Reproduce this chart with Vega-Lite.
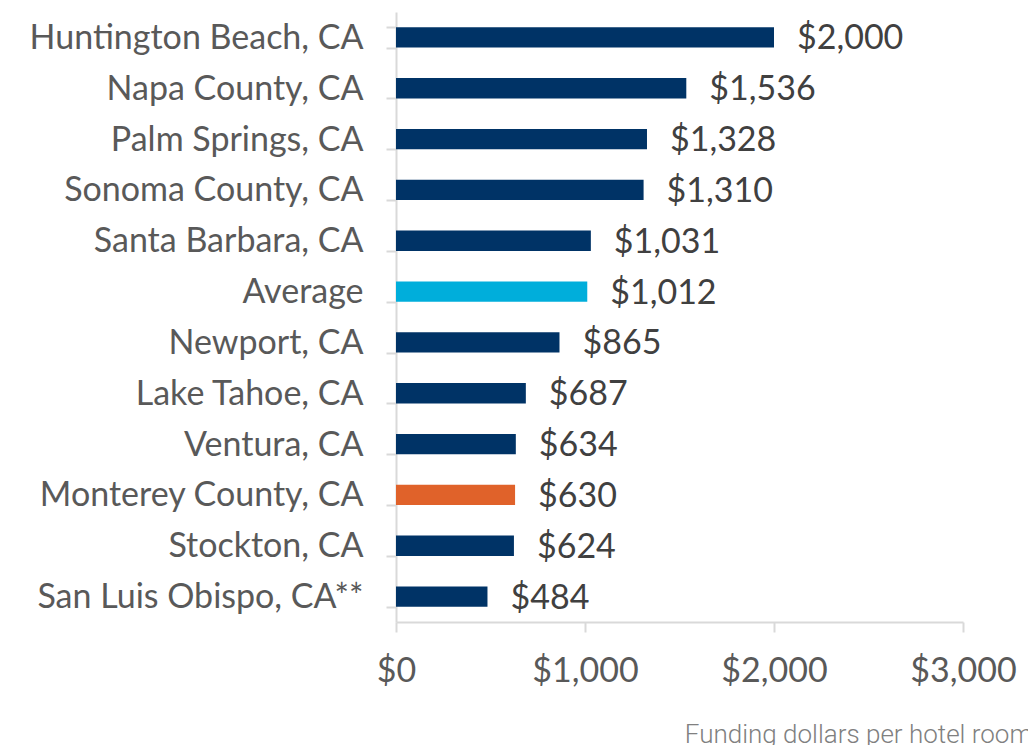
{
  "$schema": "https://vega.github.io/schema/vega-lite/v6.json",
  "width": 567,
  "height": 610,
  "autosize": {"type": "none"},
  "padding": {"left": 396, "top": 12, "right": 65, "bottom": 123},
  "background": "white",
  "config": {"view": {"stroke": null}, "font": "Lato"},
  "data": {
    "values": [
      {"city": "Huntington Beach, CA", "value": 2000, "group": "city"},
      {"city": "Napa County, CA", "value": 1536, "group": "city"},
      {"city": "Palm Springs, CA", "value": 1328, "group": "city"},
      {"city": "Sonoma County, CA", "value": 1310, "group": "city"},
      {"city": "Santa Barbara, CA", "value": 1031, "group": "city"},
      {"city": "Average", "value": 1012, "group": "average"},
      {"city": "Newport, CA", "value": 865, "group": "city"},
      {"city": "Lake Tahoe, CA", "value": 687, "group": "city"},
      {"city": "Ventura, CA", "value": 634, "group": "city"},
      {"city": "Monterey County, CA", "value": 630, "group": "monterey"},
      {"city": "Stockton, CA", "value": 624, "group": "city"},
      {"city": "San Luis Obispo, CA**", "value": 484, "group": "city"}
    ]
  },
  "encoding": {
    "y": {
      "field": "city",
      "type": "nominal",
      "sort": null,
      "scale": {"paddingInner": 0.6, "paddingOuter": 0.3},
      "axis": {
        "title": null,
        "domainColor": "#D9D9D9",
        "domainWidth": 2,
        "tickColor": "#D9D9D9",
        "tickWidth": 2,
        "tickSize": 10,
        "tickBand": "extent",
        "labelFont": "Lato",
        "labelFontSize": 34,
        "labelColor": "#595959",
        "labelPadding": 23,
        "labelLimit": 400,
        "labelOffset": 1
      }
    },
    "x": {
      "field": "value",
      "type": "quantitative",
      "scale": {"domain": [0, 3000]},
      "axis": {
        "values": [0, 1000, 2000, 3000],
        "format": "$,.0f",
        "grid": false,
        "domainColor": "#D9D9D9",
        "domainWidth": 2,
        "tickColor": "#D9D9D9",
        "tickWidth": 2,
        "tickSize": 10,
        "labelFont": "Lato",
        "labelFontSize": 34,
        "labelColor": "#595959",
        "labelPadding": 22,
        "labelFlush": false,
        "title": "Funding dollars per hotel room",
        "titleFont": "Roboto",
        "titleFontWeight": 300,
        "titleFontSize": 26,
        "titleColor": "#808080",
        "titleAlign": "right",
        "titleAnchor": null,
        "titleX": 636,
        "titleY": 120,
        "titleBaseline": "alphabetic"
      }
    }
  },
  "layer": [
    {
      "mark": {"type": "bar"},
      "encoding": {
        "color": {
          "field": "group",
          "type": "nominal",
          "scale": {"domain": ["city", "average", "monterey"], "range": ["#003366", "#00AEDB", "#E0622A"]},
          "legend": null
        }
      }
    },
    {
      "mark": {"type": "text", "align": "left", "baseline": "middle", "dx": 23, "dy": 2, "font": "Lato", "fontSize": 34, "fill": "#404040"},
      "encoding": {
        "text": {"field": "value", "type": "quantitative", "format": "$,.0f"}
      }
    }
  ]
}
